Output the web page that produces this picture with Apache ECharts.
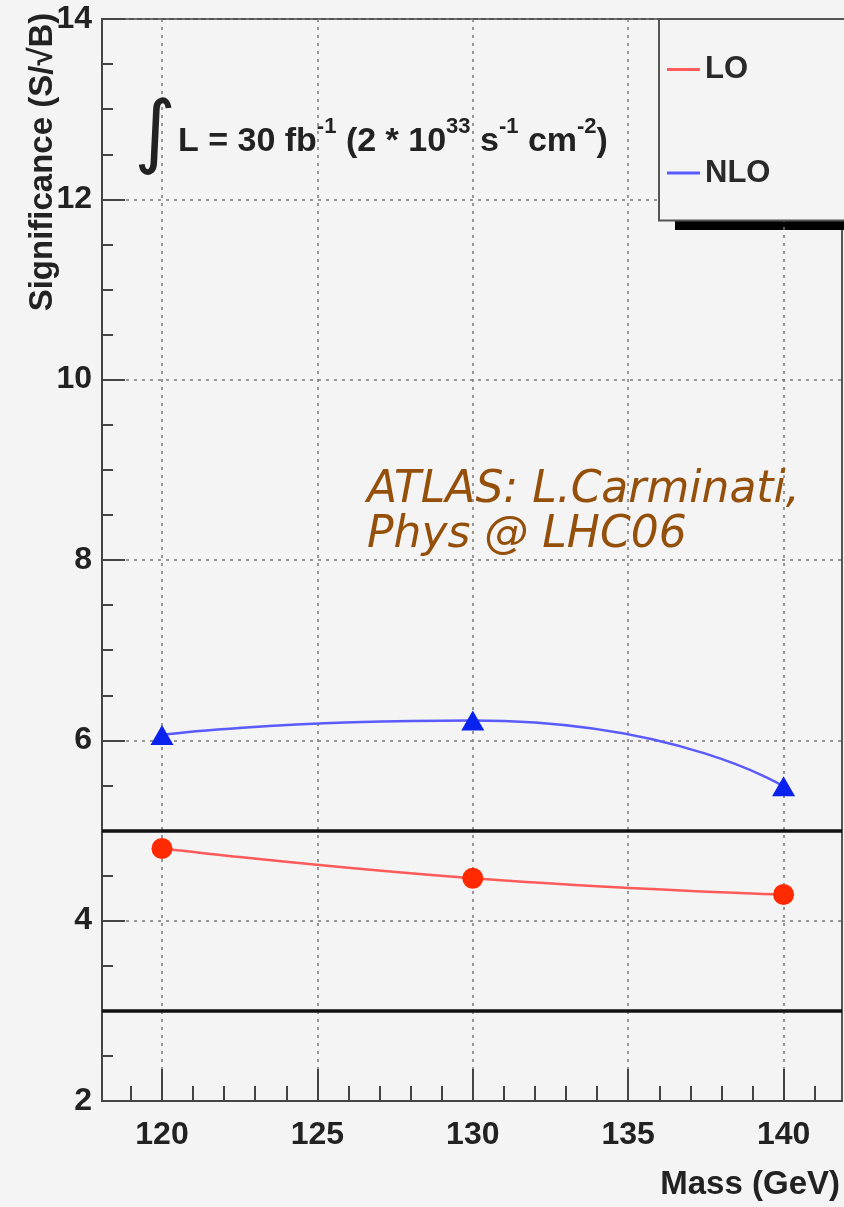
<!DOCTYPE html>
<html><head><meta charset="utf-8">
<script src="https://cdn.jsdelivr.net/npm/echarts@6/dist/echarts.min.js"></script>
<style>html,body{margin:0;padding:0;background:#f4f4f4}#c{width:844px;height:1207px}</style>
</head><body><div id="c"></div>
<script>
const massValues = [120, 130, 140];
const loSignificance = [4.80, 4.47, 4.29];
const nloSignificance = [6.06, 6.22, 5.49];
const xMajorTicks = [120, 125, 130, 135, 140];
const xMinorTicks = [119, 121, 122, 123, 124, 126, 127, 128, 129, 131, 132, 133, 134, 136, 137, 138, 139, 141];
const thresholdLines = [5, 3];
const seriesNames = ['LO', 'NLO'];

const FONT = '"Liberation Sans", Arial, Helvetica, sans-serif';
const tickStyle = { color: '#444', width: 2 };
const gridLine = { show: true, lineStyle: { color: '#7a7a7a', type: [3, 5], width: 1.5 } };
const labelStyle = { fontSize: 32, fontWeight: 'bold', color: '#222', fontFamily: FONT };

const chart = echarts.init(document.getElementById('c'), null, { renderer: 'canvas' });
chart.setOption({
  animation: false,
  backgroundColor: '#f4f4f4',
  grid: { left: 102, top: 19, width: 740, height: 1082, show: true, borderColor: '#555', borderWidth: 2, backgroundColor: 'transparent' },
  xAxis: [{
    type: 'value', min: 118.07, max: 141.88,
    axisLine: { show: true, onZero: false, lineStyle: tickStyle },
    axisTick: { show: true, inside: true, length: 32, customValues: xMajorTicks, lineStyle: tickStyle },
    axisLabel: Object.assign({ customValues: xMajorTicks, margin: 18 }, labelStyle),
    splitLine: gridLine
  }, {
    type: 'value', min: 118.07, max: 141.88, position: 'bottom',
    axisLine: { show: false, onZero: false },
    axisTick: { show: true, inside: true, length: 15, customValues: xMinorTicks, lineStyle: tickStyle },
    axisLabel: { show: false },
    splitLine: { show: false }
  }],
  yAxis: {
    type: 'value', min: 2, max: 14, interval: 2,
    axisLine: { show: true, lineStyle: tickStyle },
    axisTick: { show: true, inside: true, length: 23, lineStyle: tickStyle },
    minorTick: { show: true, splitNumber: 4, length: 11, lineStyle: tickStyle },
    axisLabel: Object.assign({ margin: 10 }, labelStyle),
    splitLine: gridLine
  },
  legend: {
    orient: 'vertical', left: 659, top: 19,
    data: [
      { name: seriesNames[0], itemStyle: { color: '#ff5a5a' } },
      { name: seriesNames[1], itemStyle: { color: '#5a5aff' } }
    ],
    icon: 'rect', itemWidth: 33, itemHeight: 3, itemGap: 72.5,
    padding: [35, 200, 32, 8],
    backgroundColor: '#f4f4f4', borderColor: '#555', borderWidth: 2, borderRadius: 0,
    textStyle: { fontSize: 31, lineHeight: 31, fontWeight: 'bold', color: '#2a2a2a', fontFamily: FONT },
    selectedMode: false, z: 5
  },
  series: [{
    name: seriesNames[0], type: 'line', xAxisIndex: 0,
    data: massValues.map((m, i) => [m, loSignificance[i]]),
    smooth: 0.5, symbol: 'circle', symbolSize: 21,
    itemStyle: { color: '#ff2a00' },
    lineStyle: { color: '#ff5a5a', width: 2.5 },
    z: 3,
    markLine: {
      silent: true, symbol: 'none', label: { show: false },
      lineStyle: { color: '#111', width: 3.5, type: 'solid' },
      data: thresholdLines.map(v => ({ yAxis: v }))
    }
  }, {
    name: seriesNames[1], type: 'line', xAxisIndex: 0,
    data: massValues.map((m, i) => [m, nloSignificance[i]]),
    smooth: 0.65, symbol: 'triangle', symbolSize: [23, 20],
    itemStyle: { color: '#0a22ee' },
    lineStyle: { color: '#5a5aff', width: 2.5 },
    z: 3
  }],
  graphic: [
    { type: 'rect', x: 675, y: 200, shape: { width: 200, height: 30 }, style: { fill: '#000' }, z: 0 },
    { type: 'text', x: 155, y: 137, z: 10,
      style: { text: '∫', font: 'normal 80px "DejaVu Sans"', align: 'center', verticalAlign: 'middle', fill: '#222' } },
    { type: 'text', x: 178, y: 142, z: 10,
      style: {
        text: '{b|L = 30 fb}{s|-1}{b| (2 * 10}{s|33}{b| s}{s|-1}{b| cm}{s|-2}{b|)}',
        verticalAlign: 'middle', align: 'left',
        rich: {
          b: { fontSize: 34, fontWeight: 'bold', fontFamily: FONT, fill: '#222' },
          s: { fontSize: 22, fontWeight: 'bold', fontFamily: FONT, fill: '#222', padding: [0, 0, 30, 0] }
        }
      } },
    { type: 'text', x: 367, y: 491, z: 10,
      style: { text: 'ATLAS: L.Carminati,', font: 'italic 44px "DejaVu Sans"', fill: '#94500a', align: 'left', verticalAlign: 'middle' } },
    { type: 'text', x: 367, y: 536, z: 10,
      style: { text: 'Phys @ LHC06', font: 'italic 44px "DejaVu Sans"', fill: '#94500a', align: 'left', verticalAlign: 'middle' } },
    { type: 'text', x: 43, y: 162, rotation: Math.PI / 2, z: 10,
      style: { text: 'Significance (S/√B)', font: 'bold 33px "Liberation Sans"', fill: '#222', align: 'center', verticalAlign: 'middle' } },
    { type: 'text', x: 840, y: 1185, z: 10,
      style: { text: 'Mass (GeV)', font: 'bold 33px "Liberation Sans"', fill: '#222', align: 'right', verticalAlign: 'middle' } }
  ]
});
</script></body></html>
